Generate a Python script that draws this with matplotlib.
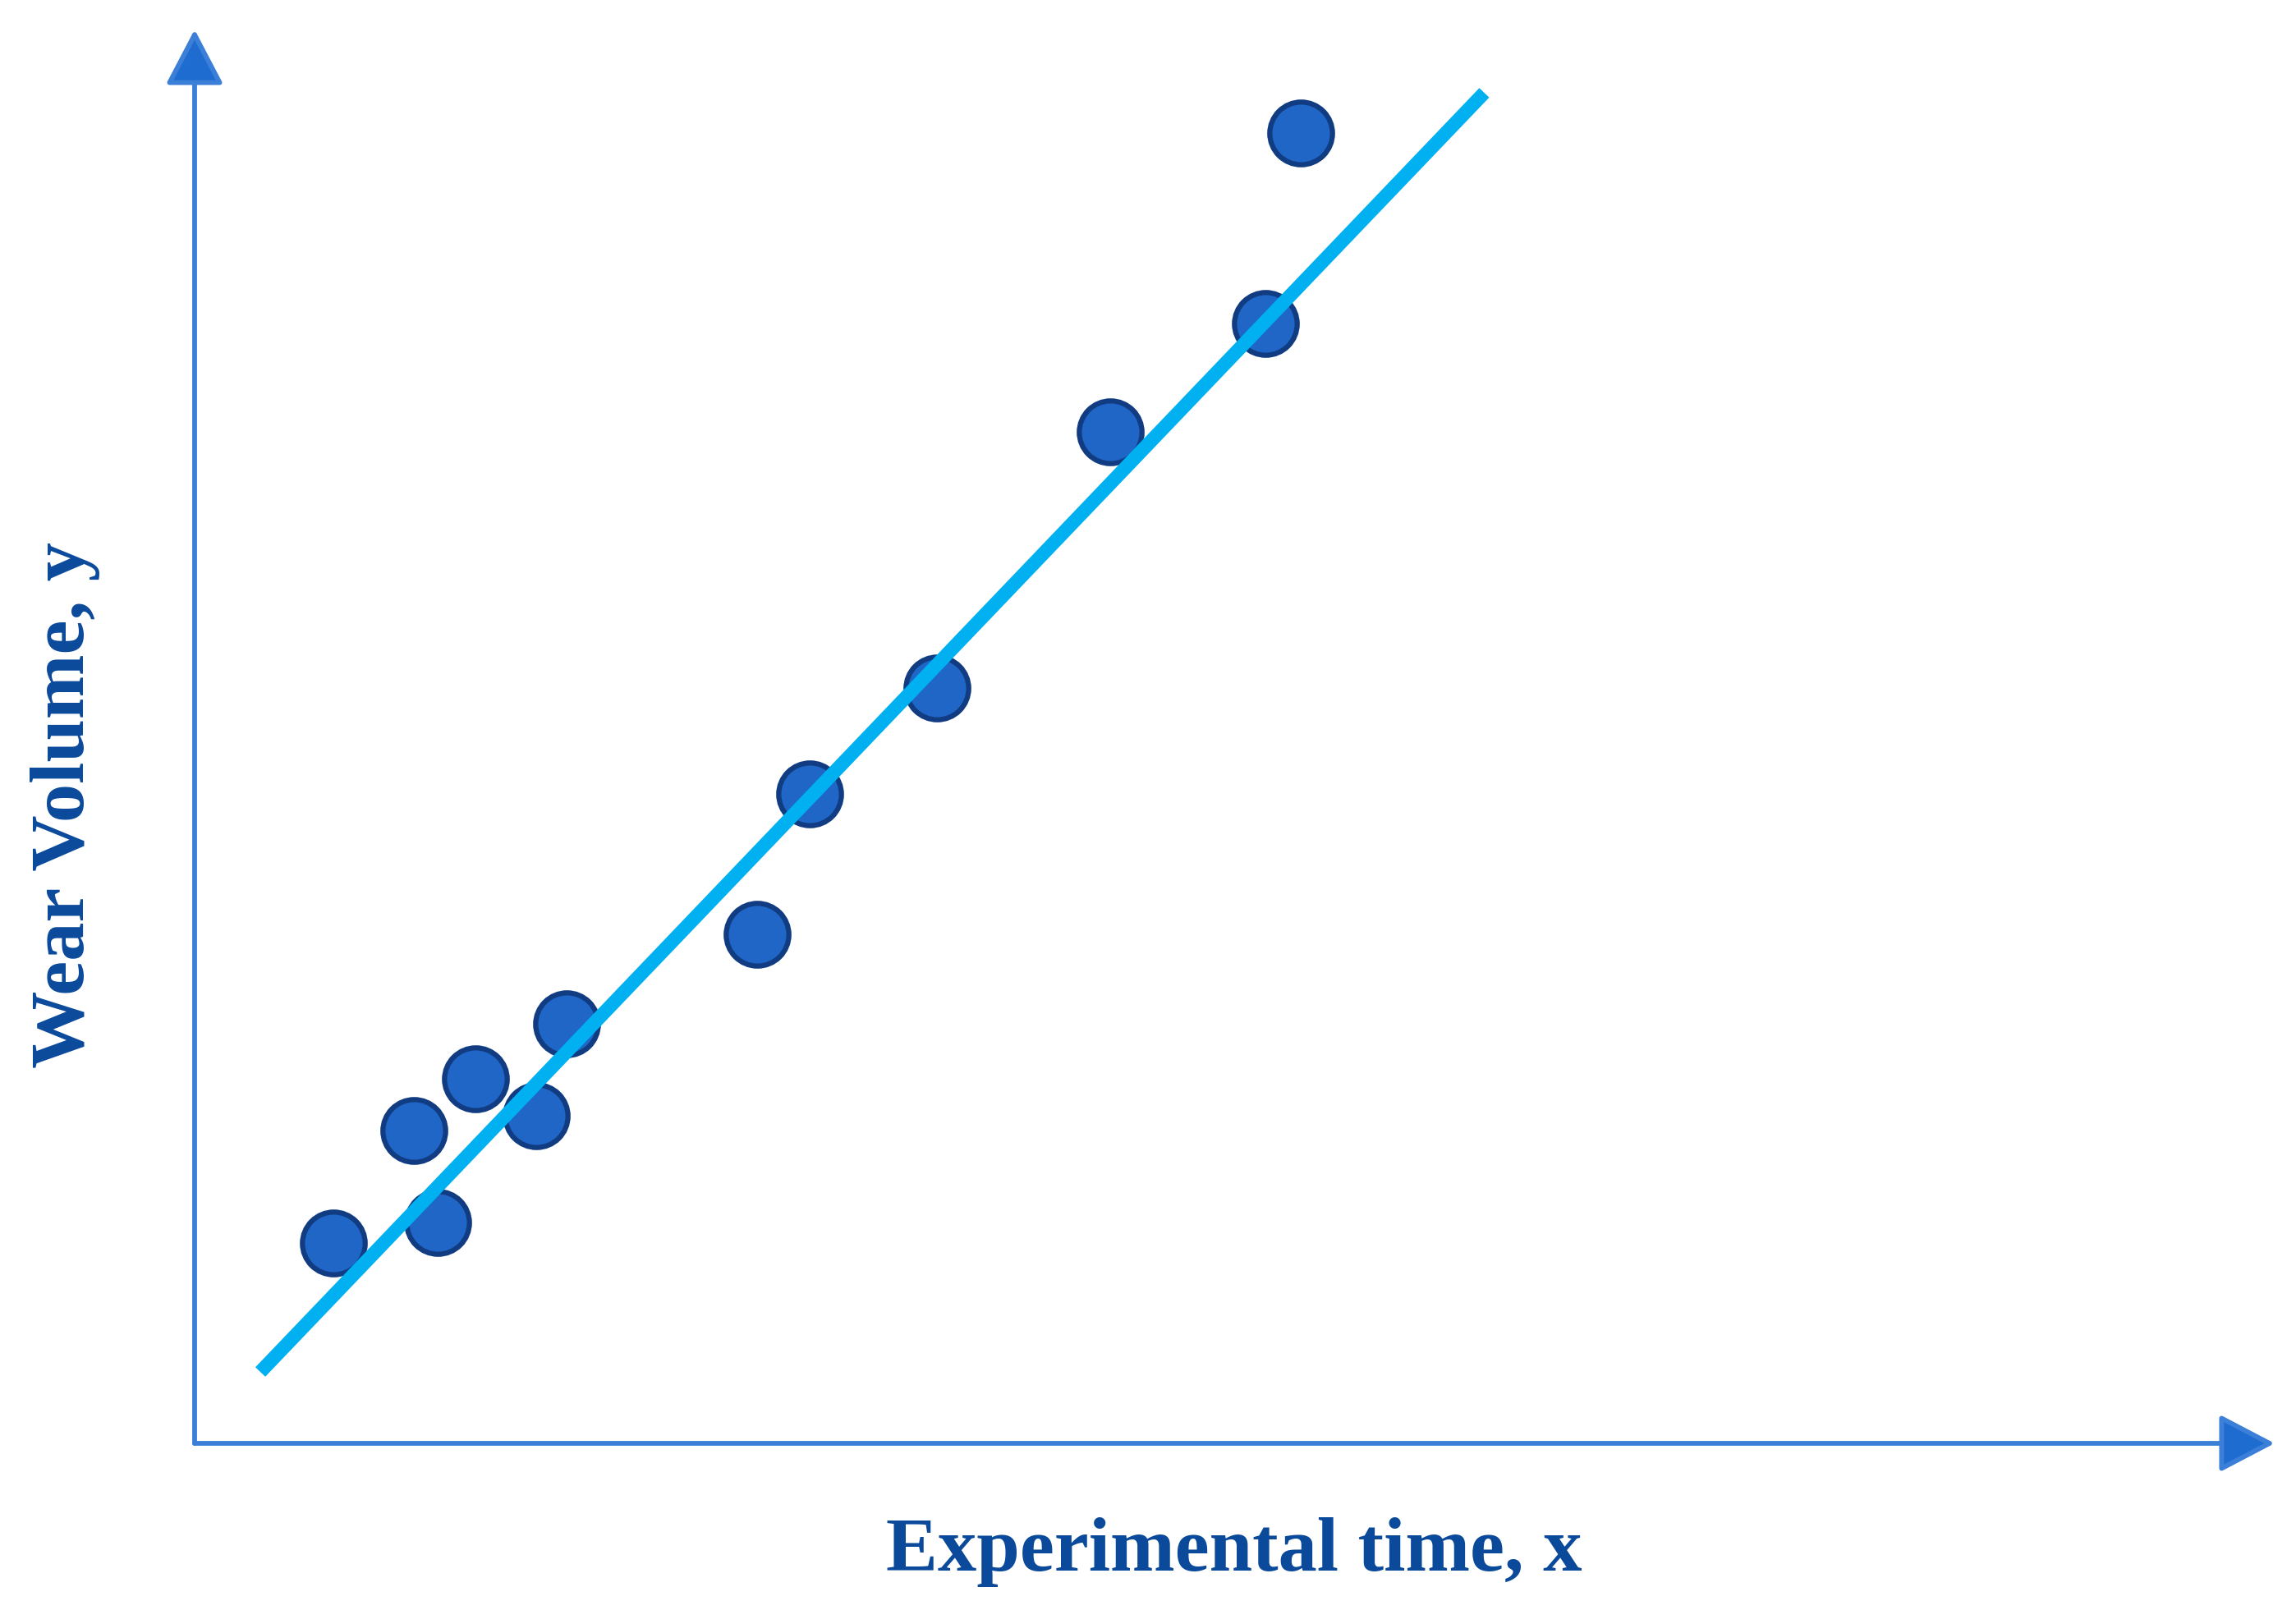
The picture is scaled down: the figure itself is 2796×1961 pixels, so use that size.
import matplotlib
matplotlib.use("Agg")
import matplotlib.pyplot as plt

# Data (arbitrary units)
time_x = [0.668, 1.056, 1.169, 1.352, 1.641, 1.789, 2.704, 2.957, 3.570, 4.401, 5.147, 5.316]
wear_y = [1.418, 2.215, 1.562, 2.577, 2.318, 2.970, 3.602, 4.596, 5.342, 7.154, 7.920, 9.267]
fit_x = [0.316, 6.200]
fit_y = [0.505, 9.553]

x_label = "Experimental time, x"
y_label = "Wear Volume, y"

W, H = 2796, 1961
fig = plt.figure(figsize=(W / 100, H / 100), dpi=100)
ax = fig.add_axes([237 / W, 1 - 1758 / H, (2770 - 237) / W, (1758 - 36) / H])
ax.set_xlim(0, 10)
ax.set_ylim(0, 10)
ax.axis("off")

axis_color = "#3b7fd8"
head_color = "#1f6cd0"
arrow_style = "-|>,head_length=4.2,head_width=2.2"
for end in [(1, 0), (0, 1)]:
    ax.annotate("", xy=end, xytext=(0, 0), xycoords="axes fraction",
                textcoords="axes fraction",
                arrowprops=dict(arrowstyle=arrow_style, mutation_scale=10,
                                lw=4.2, color=axis_color, fc=head_color,
                                shrinkA=0, shrinkB=0))

ax.plot(time_x, wear_y, linestyle="none", marker="o", ms=55, mew=4.5,
        mfc="#1f66c6", mec="#113c82", zorder=3, clip_on=False)
ax.plot(fit_x, fit_y, color="#00b0f0", lw=12, solid_capstyle="butt",
        zorder=4, clip_on=False)

font = dict(family="Liberation Serif", weight="bold", color="#0b4a9b", size=68)
fig.text(1503 / W, 1 - 1913 / H, x_label, ha="center", va="baseline", **font)
fig.text(80 / W, 1 - 981 / H, y_label, ha="center", va="center",
         rotation=90, **font)

fig.savefig("out.png", dpi=100, facecolor="white")
